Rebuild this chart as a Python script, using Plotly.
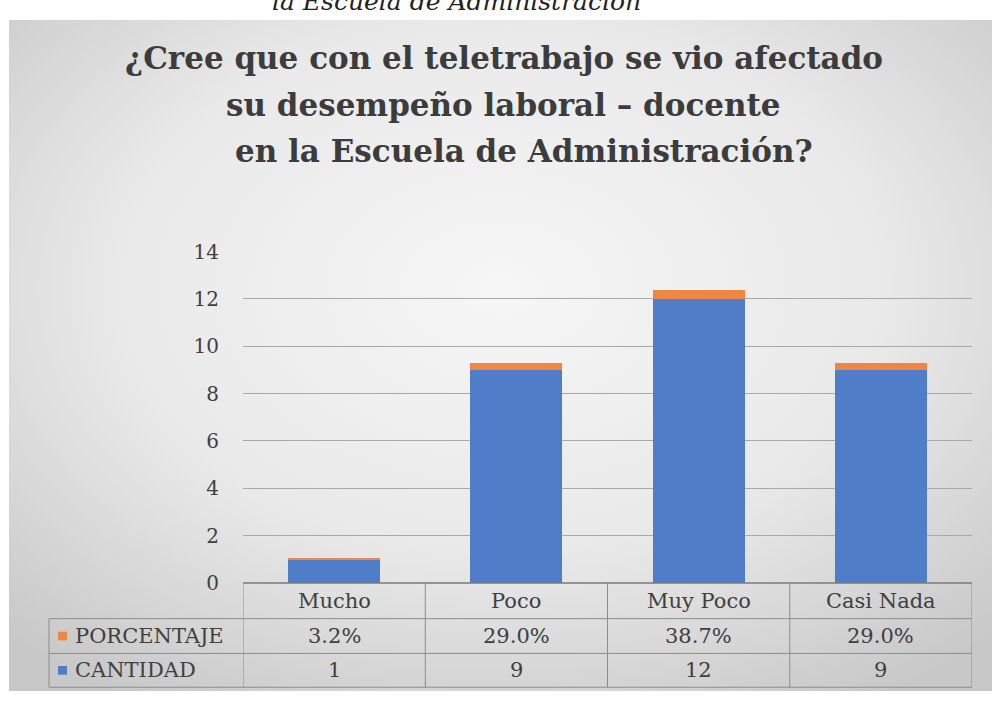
import base64
import plotly.graph_objects as go

categories = ["Mucho", "Poco", "Muy Poco", "Casi Nada"]
cantidad = [1, 9, 12, 9]
porcentaje = [0.032, 0.290, 0.387, 0.290]
series_names = ["PORCENTAJE", "CANTIDAD"]
y_ticks = [0, 2, 4, 6, 8, 10, 12, 14]
title_lines = ["¿Cree que con el teletrabajo se vio afectado",
               "su desempeño laboral – docente",
               "en la Escuela de Administración?"]
caption = "la Escuela de Administración"

W, H = 992, 706
BLUE = "#4F7DC8"
ORANGE = "#EE8646"
TXT = "#404040"
GRID = "#A9A9A9"
TLINE = "#8C8C8C"
SERIF = "DejaVu Serif"


def px(x):
    return x / W


def py(y):
    return 1 - y / H


svg = ('<svg xmlns="http://www.w3.org/2000/svg" width="983" height="695" viewBox="0 0 983 695">'
       '<defs><radialGradient id="g" cx="50%" cy="40%" r="72%">'
       '<stop offset="0" stop-color="#f6f6f6"/>'
       '<stop offset="0.55" stop-color="#e9e9e9"/>'
       '<stop offset="1" stop-color="#c8c8c8"/>'
       '</radialGradient></defs>'
       '<rect width="983" height="695" fill="url(#g)"/></svg>')
src = "data:image/svg+xml;base64," + base64.b64encode(svg.encode()).decode()

fig = go.Figure()
fig.add_trace(go.Bar(x=categories, y=cantidad, name=series_names[1],
                     marker=dict(color=BLUE, line=dict(width=0))))
fig.add_trace(go.Bar(x=categories, y=porcentaje, name=series_names[0],
                     marker=dict(color=ORANGE, line=dict(width=0))))

y0_px, y14_px = 591, 248
x_left, x_right = 243, 972
row_top = [591, 628, 664]
row_bot = [628, 664, 699]
legend_left = 49

shapes = []
shapes.append(dict(type="line", xref="x", yref="paper", x0=-0.5, x1=3.5,
                   y0=py(591), y1=py(591), line=dict(color="#7A7A7A", width=1.5)))
for yy in [628, 664, 699]:
    shapes.append(dict(type="line", xref="paper", yref="paper", x0=px(legend_left), x1=px(x_right),
                       y0=py(yy), y1=py(yy), line=dict(color=TLINE, width=1)))
for i in range(len(categories) + 1):
    shapes.append(dict(type="line", xref="x", yref="paper", x0=i - 0.5, x1=i - 0.5,
                       y0=py(591), y1=py(699), line=dict(color=TLINE, width=1)))
shapes.append(dict(type="line", xref="paper", yref="paper", x0=px(legend_left), x1=px(legend_left),
                   y0=py(628), y1=py(699), line=dict(color=TLINE, width=1)))
for (r, col) in [(1, ORANGE), (2, BLUE)]:
    cy = (row_top[r] + row_bot[r]) / 2
    shapes.append(dict(type="rect", xref="paper", yref="paper",
                       x0=px(58), x1=px(67), y0=py(cy + 4.5), y1=py(cy - 4.5),
                       fillcolor=col, line=dict(width=0)))

ann = []
title_centers = [(504, 48), (503, 96), (524, 144)]
for line, (cx, cy) in zip(title_lines, title_centers):
    ann.append(dict(text="<b>" + line + "</b>", xref="paper", yref="paper",
                    x=px(cx), y=py(cy), xanchor="center", yanchor="middle", showarrow=False,
                    font=dict(family=SERIF, size=31, color="#3C3C3C")))
ann.append(dict(text="<i>" + caption + "</i>", xref="paper", yref="paper",
                x=px(456), y=py(6), xanchor="center", yanchor="bottom", showarrow=False,
                font=dict(family=SERIF, size=25, color="#222222")))
tf = dict(family=SERIF, size=21, color=TXT)
for i, c in enumerate(categories):
    ann.append(dict(text=c, x=c, xref="x", yref="paper", y=py((row_top[0] + row_bot[0]) / 2),
                    yanchor="middle", showarrow=False, font=tf))
    ann.append(dict(text=f"{porcentaje[i] * 100:.1f}%", x=c, xref="x", yref="paper",
                    y=py((row_top[1] + row_bot[1]) / 2), yanchor="middle", showarrow=False, font=tf))
    ann.append(dict(text=f"{cantidad[i]}", x=c, xref="x", yref="paper",
                    y=py((row_top[2] + row_bot[2]) / 2), yanchor="middle", showarrow=False, font=tf))
for r, name in [(1, series_names[0]), (2, series_names[1])]:
    ann.append(dict(text=name, xref="paper", yref="paper", x=px(73),
                    y=py((row_top[r] + row_bot[r]) / 2), xanchor="left", yanchor="middle",
                    showarrow=False, font=tf))

fig.update_layout(
    width=W, height=H,
    margin=dict(l=0, r=0, t=0, b=0),
    paper_bgcolor="white", plot_bgcolor="rgba(0,0,0,0)",
    barmode="stack", bargap=0.495, showlegend=False,
    images=[dict(source=src, xref="paper", yref="paper", x=px(9), y=py(8),
                 sizex=983 / W, sizey=695 / H, sizing="stretch", layer="below",
                 xanchor="left", yanchor="top")],
    xaxis=dict(domain=[px(x_left), px(x_right)], showticklabels=False, showgrid=False,
               zeroline=False, showline=False, range=[-0.5, 3.5]),
    yaxis=dict(domain=[py(y0_px), py(y14_px)], range=[0, 14], tickvals=y_ticks,
               showgrid=True, gridcolor=GRID, gridwidth=1, zeroline=False, showline=False,
               ticks="", ticklabelstandoff=23,
               tickfont=dict(family=SERIF, size=20, color=TXT)),
    shapes=shapes, annotations=ann,
)

fig.write_html("out.html")
